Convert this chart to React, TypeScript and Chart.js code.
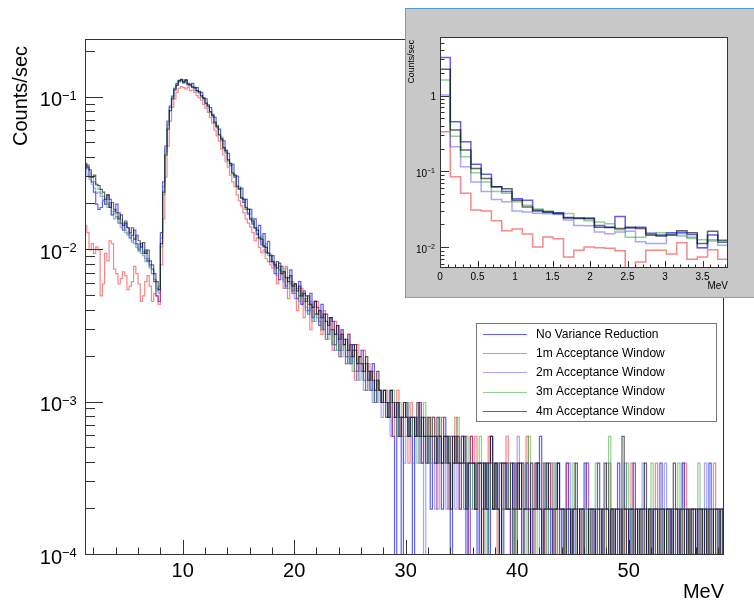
import React, { useEffect, useRef } from 'react';
import { Chart, registerables } from 'chart.js';

Chart.register(...registerables);

// ---------- series ----------
const seriesLabels = [
  'No Variance Reduction',
  '1m Acceptance Window',
  '2m Acceptance Window',
  '3m Acceptance Window',
  '4m Acceptance Window',
];
const seriesColors = [
  'rgba(30,30,235,0.7)',
  'rgba(235,40,40,0.55)',
  'rgba(80,80,255,0.5)',
  'rgba(40,160,40,0.5)',
  'rgba(0,0,0,0.6)',
];

// ---------- main histogram (MeV bins of 0.2 starting at 1.2; values in units of 1e-4 counts/sec) ----------
const mainBinStart = 1.2;
const mainBinWidth = 0.2;
const mainUnit = 1e-4;

const mainNoVR = [
  340, 360, 300, 280, 240, 200, 185, 190, 210, 200, 230, 215, 170, 180, 200, 175, 150, 135, 150, 140, 120, 125, 135, 110, 100, 110, 95, 100, 85, 80, 75, 62, 50, 46,
  130, 280, 480, 700, 880, 1020, 1150, 1240, 1280, 1300,
  1250, 1290, 1220, 1200, 1240, 1150, 1160, 1090, 1080, 990, 980, 870, 860, 760, 740, 640, 620, 530, 520, 440, 430, 360, 365, 300, 305, 250, 255, 205, 215, 172, 185, 148, 160, 126, 145, 108, 128, 96, 114, 84,
  92, 70, 84, 64, 78, 72, 58, 66, 74, 54, 60, 48, 62, 44, 54, 50, 40, 52, 36, 46, 42, 32, 44, 30, 38, 28, 36, 34, 24, 32, 22, 30, 26, 20, 28, 18, 24, 22, 16, 20, 22, 14, 18, 16, 12, 18, 10, 14, 12, 10,
  12, 8, 10, 12, 6, 0, 10, 8, 0, 8, 10, 6, 8, 0, 8, 6, 10, 4, 8, 6, 6, 2, 8, 6, 4, 6, 2, 8, 4, 6, 0, 4, 6, 4, 2, 6, 4, 0, 4, 6,
  4, 2, 0, 4, 4, 2, 4, 0, 6, 2, 4, 2, 4, 0, 2, 4, 2, 0, 4, 2, 2, 4, 0, 2, 4, 2, 0, 2, 4, 2, 6, 0, 2, 2, 4, 0, 2, 2, 4, 0,
  2, 2, 4, 0, 2, 0, 2, 2, 0, 2, 4, 2, 0, 2, 2, 0, 4, 2, 0, 2, 2, 0, 2, 2, 0, 4, 2, 0, 2, 2, 0, 2, 4, 0, 2, 2, 0, 2, 0, 2, 2, 0, 2, 2, 4, 0, 2, 2, 0, 2, 0, 2, 2, 0, 4, 2, 0, 2, 2, 0, 2, 0, 2, 2, 0, 2, 4, 0, 2, 2, 0, 2, 2,
];
const main1m = [
  145, 130, 100, 110, 95, 105, 100, 50, 60, 95, 85, 115, 110, 75, 70, 60, 65, 72, 68, 55, 58, 62, 78, 70, 60, 46, 50, 62, 68, 58, 46, 52, 50, 44,
  80, 160, 300, 480, 700, 860, 980, 1080, 1150, 1180,
  1160, 1140, 1170, 1110, 1120, 1080, 1030, 1000, 960, 900, 850, 800, 740, 680, 610, 560, 520, 460, 420, 380, 350, 310, 280, 260, 230, 210, 195, 175, 160, 150, 142, 130, 115, 120, 104, 96, 100, 88, 84, 80,
  76, 82, 60, 74, 70, 56, 78, 48, 62, 52, 58, 40, 50, 56, 36, 48, 44, 30, 42, 38, 46, 34, 28, 40, 26, 36, 30, 22, 34, 26, 20, 30, 24, 18, 28, 20, 22, 14, 24, 18, 16, 22, 12, 18, 14, 16, 10, 14, 12, 10,
  10, 12, 8, 10, 6, 10, 12, 8, 6, 10, 8, 4, 10, 8, 6, 8, 10, 4, 6, 8, 6, 4, 8, 6, 2, 6, 8, 4, 6, 2, 6, 4, 8, 4, 2, 6, 4, 4, 0, 6,
  4, 6, 2, 4, 0, 2, 4, 6, 2, 4, 2, 0, 4, 2, 4, 6, 2, 0, 2, 4, 2, 4, 0, 2, 6, 2, 2, 0, 4, 2, 2, 4, 0, 2, 2, 4, 2, 0, 2, 2,
  2, 0, 4, 2, 0, 2, 2, 0, 2, 0, 2, 4, 0, 2, 2, 0, 2, 2, 0, 2, 0, 4, 2, 0, 2, 2, 0, 2, 0, 2, 2, 4, 0, 2, 2, 0, 2, 0, 2, 2, 0, 2, 4, 0, 2, 2, 0, 2, 0, 2, 2, 0, 2, 2, 0, 4, 2, 0, 2, 0, 2, 2, 0, 2, 2, 0, 2, 0, 4, 2, 0, 2, 2,
];
const main2m = [
  330, 310, 290, 270, 255, 235, 240, 225, 215, 200, 190, 205, 170, 160, 165, 150, 140, 150, 130, 125, 128, 112, 118, 104, 98, 104, 92, 84, 88, 76, 70, 64, 56, 52,
  120, 260, 460, 680, 860, 1000, 1120, 1200, 1260, 1280,
  1250, 1260, 1200, 1190, 1160, 1120, 1110, 1060, 1010, 970, 920, 870, 800, 750, 680, 630, 570, 520, 470, 430, 390, 355, 320, 300, 265, 250, 220, 205, 185, 175, 160, 150, 140, 128, 122, 112, 106, 98, 96, 86,
  82, 78, 68, 74, 72, 62, 56, 66, 60, 52, 48, 56, 50, 44, 46, 40, 38, 46, 34, 38, 36, 32, 30, 36, 26, 28, 30, 24, 22, 28, 20, 22, 26, 18, 20, 18, 22, 16, 14, 18, 16, 12, 14, 16, 12, 10, 14, 10, 12, 8,
  10, 8, 10, 6, 8, 10, 6, 8, 8, 4, 6, 8, 6, 4, 8, 6, 4, 6, 0, 6, 4, 6, 4, 2, 6, 4, 4, 6, 2, 4, 6, 4, 2, 4, 4, 6, 2, 4, 0, 4,
  2, 4, 4, 0, 2, 4, 2, 0, 4, 2, 2, 4, 0, 2, 4, 2, 2, 0, 4, 2, 6, 2, 0, 2, 4, 2, 0, 2, 2, 4, 0, 2, 4, 2, 0, 2, 2, 4, 2, 0,
  2, 2, 0, 4, 0, 2, 2, 0, 2, 2, 0, 4, 2, 0, 2, 0, 2, 2, 0, 2, 4, 0, 2, 2, 0, 2, 0, 2, 4, 2, 0, 2, 2, 0, 2, 0, 4, 2, 0, 2, 2, 0, 2, 2, 0, 2, 4, 0, 2, 0, 2, 2, 0, 2, 4, 0, 2, 2, 0, 2, 0, 2, 2, 0, 4, 2, 0, 2, 2, 0, 2, 0, 2,
];
const main3m = [
  355, 340, 320, 300, 280, 265, 250, 235, 225, 210, 200, 190, 180, 172, 165, 150, 158, 140, 135, 128, 125, 115, 110, 108, 102, 95, 98, 88, 84, 78, 70, 64, 54, 58,
  105, 230, 440, 660, 860, 1010, 1150, 1230, 1300, 1320,
  1240, 1300, 1240, 1210, 1180, 1170, 1100, 1100, 1010, 1000, 910, 900, 800, 780, 680, 660, 570, 550, 460, 450, 385, 370, 315, 310, 262, 262, 218, 216, 185, 186, 158, 162, 138, 140, 118, 124, 104, 110, 92, 94,
  84, 80, 70, 78, 72, 64, 76, 56, 60, 62, 52, 56, 46, 52, 48, 42, 38, 44, 40, 34, 38, 36, 30, 34, 28, 26, 30, 24, 28, 22, 24, 20, 24, 22, 18, 20, 16, 22, 18, 14, 16, 18, 12, 14, 16, 12, 10, 14, 12, 10,
  12, 10, 8, 10, 12, 8, 6, 10, 8, 6, 10, 8, 6, 8, 6, 4, 8, 6, 10, 6, 4, 8, 6, 4, 6, 8, 4, 6, 4, 6, 2, 4, 6, 8, 4, 4, 2, 6, 4, 2,
  4, 2, 4, 6, 2, 4, 0, 2, 4, 2, 4, 2, 0, 4, 2, 2, 4, 2, 0, 2, 4, 2, 2, 0, 4, 6, 2, 2, 0, 4, 2, 2, 4, 0, 2, 2, 4, 2, 0, 2,
  2, 0, 2, 2, 0, 4, 2, 0, 2, 2, 0, 2, 0, 2, 2, 4, 0, 2, 2, 0, 2, 6, 0, 2, 2, 0, 2, 0, 2, 4, 2, 0, 2, 2, 0, 2, 0, 2, 2, 0, 4, 2, 0, 2, 2, 0, 2, 0, 2, 2, 0, 2, 4, 0, 2, 2, 0, 2, 0, 2, 2, 4, 0, 2, 2, 0, 2, 0, 2, 2, 0, 2, 2,
];
const main4m = [
  370, 350, 335, 300, 310, 270, 265, 250, 240, 215, 230, 190, 205, 185, 175, 160, 170, 145, 155, 140, 130, 140, 118, 125, 115, 105, 112, 95, 100, 85, 80, 70, 62, 55,
  110, 240, 420, 620, 820, 980, 1120, 1200, 1290, 1310,
  1270, 1310, 1230, 1220, 1170, 1160, 1110, 1090, 1030, 990, 920, 890, 810, 770, 690, 650, 570, 540, 470, 450, 390, 370, 320, 310, 260, 255, 220, 215, 190, 185, 160, 155, 140, 135, 120, 118, 106, 104, 95, 92,
  84, 80, 76, 82, 70, 72, 66, 62, 68, 58, 60, 54, 58, 50, 52, 46, 50, 44, 42, 46, 38, 40, 36, 38, 34, 32, 36, 30, 28, 32, 26, 28, 24, 26, 22, 24, 20, 24, 18, 20, 18, 16, 20, 14, 16, 14, 12, 16, 12, 10,
  12, 10, 8, 12, 10, 8, 10, 6, 8, 10, 8, 6, 8, 8, 6, 10, 6, 8, 6, 4, 8, 6, 6, 4, 8, 6, 4, 6, 6, 4, 2, 6, 4, 6, 4, 4, 6, 2, 4, 4,
  4, 2, 4, 4, 0, 4, 2, 4, 6, 2, 4, 2, 0, 4, 4, 2, 2, 4, 2, 0, 4, 2, 4, 2, 2, 0, 4, 2, 2, 4, 2, 0, 2, 4, 2, 2, 0, 2, 4, 2,
  2, 0, 2, 2, 0, 2, 4, 0, 2, 2, 0, 0, 2, 2, 0, 2, 2, 0, 2, 4, 2, 0, 2, 0, 2, 2, 0, 6, 2, 0, 2, 2, 0, 2, 0, 2, 2, 4, 0, 2, 0, 2, 2, 0, 2, 2, 0, 2, 2, 0, 4, 2, 0, 2, 2, 0, 2, 0, 2, 2, 0, 2, 2, 0, 2, 0, 2, 2, 0, 2, 2, 0, 2,
];

// ---------- inset histogram (MeV, 28 bins from 0; counts/sec) ----------
const insetBinStart = 0;
const insetBinWidth = 0.1372;
const insetNoVR = [3.28, 0.467, 0.254, 0.128, 0.095, 0.065, 0.056, 0.045, 0.043, 0.032, 0.03, 0.0295, 0.0255, 0.025, 0.0245, 0.02, 0.019, 0.0262, 0.0185, 0.019, 0.0158, 0.015, 0.016, 0.0162, 0.0152, 0.0102, 0.015, 0.012];
const inset1m = [0.345, 0.088, 0.053, 0.032, 0.031, 0.023, 0.017, 0.018, 0.0154, 0.0104, 0.0141, 0.0134, 0.0077, 0.0094, 0.0104, 0.0102, 0.01, 0.0093, 0.004, 0.0066, 0.0094, 0.0094, 0.0084, 0.0118, 0.0072, 0.0077, 0.0096, 0.0072];
const inset2m = [1.05, 0.218, 0.119, 0.075, 0.056, 0.044, 0.041, 0.031, 0.03, 0.029, 0.0285, 0.028, 0.0236, 0.02, 0.0198, 0.0164, 0.0156, 0.0164, 0.0168, 0.0122, 0.0116, 0.0116, 0.015, 0.0145, 0.014, 0.0102, 0.013, 0.011];
const inset3m = [1.66, 0.3, 0.161, 0.099, 0.075, 0.056, 0.053, 0.041, 0.037, 0.033, 0.031, 0.029, 0.0287, 0.025, 0.023, 0.0223, 0.021, 0.0175, 0.014, 0.014, 0.015, 0.016, 0.0156, 0.0155, 0.0135, 0.013, 0.0125, 0.012];
const inset4m = [2.3, 0.363, 0.197, 0.113, 0.083, 0.065, 0.061, 0.043, 0.035, 0.031, 0.03, 0.0287, 0.025, 0.0247, 0.025, 0.019, 0.0188, 0.0183, 0.019, 0.0183, 0.015, 0.0145, 0.015, 0.017, 0.016, 0.0116, 0.0168, 0.0128];

// ---------- axes ----------
const mainXRange = [1.24, 58.55];
const mainYRange = [1e-4, 0.242];
const mainXTicks = [10, 20, 30, 40, 50];
const mainYExponents = [-4, -3, -2, -1];
const insetXRange = [0, 3.84];
const insetYRange = [0.0055, 6.1];
const insetXTicks = [0, 0.5, 1, 1.5, 2, 2.5, 3, 3.5];
const insetXTickLabels = ['0', '0.5', '1', '1.5', '2', '2.5', '3', '3.5'];
const insetYTicks = [1, 0.1, 0.01];
const insetYTickExp = [0, -1, -2];

const FONT = '"Liberation Sans", Arial, Helvetica, sans-serif';

function histPoints(values: number[], start: number, width: number, unit: number, floor: number) {
  const pts = values.map((v, i) => ({ x: start + i * width, y: v > 0 ? v * unit : floor }));
  pts.push({ x: start + values.length * width, y: pts[pts.length - 1].y });
  return pts;
}

function makeDatasets(list: number[][], start: number, width: number, unit: number, floor: number, lw: number) {
  return list.map((vals, i) => ({
    label: seriesLabels[i],
    data: histPoints(vals, start, width, unit, floor),
    borderColor: seriesColors[i],
    backgroundColor: seriesColors[i],
    borderWidth: lw,
    pointRadius: 0,
    stepped: 'before' as const,
    tension: 0,
    fill: false,
    order: 5 - i,
  }));
}

function line(ctx: CanvasRenderingContext2D, x1: number, y1: number, x2: number, y2: number) {
  ctx.beginPath();
  ctx.moveTo(x1, y1);
  ctx.lineTo(x2, y2);
  ctx.stroke();
}

function drawPow10(ctx: CanvasRenderingContext2D, xJoin: number, y: number, exp: number, base: number, small: number, dy: number) {
  ctx.fillStyle = '#000';
  ctx.font = `${base}px ${FONT}`;
  ctx.textAlign = 'right';
  ctx.textBaseline = 'middle';
  ctx.fillText('10', xJoin, y);
  ctx.font = `${small}px ${FONT}`;
  ctx.textAlign = 'left';
  ctx.textBaseline = 'alphabetic';
  ctx.fillText('\u2212' + Math.abs(exp), xJoin, y + dy);
}

const mainDecor = {
  id: 'mainDecor',
  afterDraw(chart: any) {
    const { ctx, chartArea: a, scales } = chart;
    const xs = scales.x;
    const ys = scales.y;
    ctx.save();
    ctx.strokeStyle = '#333';
    ctx.lineWidth = 1;
    ctx.strokeRect(a.left + 0.5, a.top + 0.5, a.right - a.left - 1, a.bottom - a.top - 1);
    for (let v = 2; v <= 58; v += 2) {
      const px = Math.round(xs.getPixelForValue(v)) + 0.5;
      if (px <= a.left || px >= a.right) continue;
      const len = v % 10 === 0 ? 15 : 7.5;
      line(ctx, px, a.bottom, px, a.bottom - len);
    }
    for (let e = -4; e <= -1; e++) {
      for (let m = 1; m <= 9; m++) {
        const v = m * Math.pow(10, e);
        if (v > ys.max) continue;
        const py = Math.round(ys.getPixelForValue(v)) - 0.5;
        const len = m === 1 ? 18 : 10;
        line(ctx, a.left, py, a.left + len, py);
      }
    }
    ctx.fillStyle = '#000';
    ctx.font = `20px ${FONT}`;
    ctx.textAlign = 'center';
    ctx.textBaseline = 'middle';
    mainXTicks.forEach((v) => ctx.fillText(String(v), xs.getPixelForValue(v), 571));
    mainYExponents.forEach((e) => {
      const py = ys.getPixelForValue(Math.pow(10, e));
      drawPow10(ctx, 62, py + 3, e, 20, 13, -1);
    });
    ctx.fillStyle = '#000';
    ctx.font = `20px ${FONT}`;
    ctx.textAlign = 'right';
    ctx.textBaseline = 'middle';
    ctx.fillText('MeV', a.right, 592);
    ctx.save();
    ctx.translate(21, 46);
    ctx.rotate(-Math.PI / 2);
    ctx.textAlign = 'right';
    ctx.textBaseline = 'middle';
    ctx.fillText('Counts/sec', 0, 0);
    ctx.restore();
    // legend
    const lx = 476, ly = 323, lw = 240, lh = 98;
    ctx.fillStyle = '#fff';
    ctx.fillRect(lx, ly, lw, lh);
    ctx.strokeStyle = '#777';
    ctx.strokeRect(lx + 0.5, ly + 0.5, lw, lh);
    ctx.font = `12px ${FONT}`;
    ctx.textAlign = 'left';
    ctx.textBaseline = 'middle';
    seriesLabels.forEach((lab, i) => {
      const yy = 334 + i * 19.2;
      ctx.strokeStyle = seriesColors[i];
      ctx.lineWidth = 1;
      line(ctx, 483, Math.round(yy) + 0.5, 527, Math.round(yy) + 0.5);
      ctx.fillStyle = '#000';
      ctx.fillText(lab, 536, yy + 0.5);
    });
    ctx.restore();
  },
};

const insetDecor = {
  id: 'insetDecor',
  beforeDatasetsDraw(chart: any) {
    const { ctx, chartArea: a } = chart;
    ctx.save();
    ctx.fillStyle = '#fff';
    ctx.fillRect(a.left, a.top, a.right - a.left, a.bottom - a.top);
    ctx.restore();
  },
  afterDraw(chart: any) {
    const { ctx, chartArea: a, scales } = chart;
    const xs = scales.x;
    const ys = scales.y;
    ctx.save();
    ctx.strokeStyle = '#333';
    ctx.lineWidth = 1;
    ctx.strokeRect(a.left + 0.5, a.top + 0.5, a.right - a.left - 1, a.bottom - a.top - 1);
    for (let k = 1; k <= 38; k++) {
      const v = k / 10;
      const px = Math.round(xs.getPixelForValue(v)) + 0.5;
      if (px >= a.right) continue;
      const len = k % 5 === 0 ? 7 : 3.5;
      line(ctx, px, a.bottom, px, a.bottom - len);
    }
    for (let e = -3; e <= 0; e++) {
      for (let m = 1; m <= 9; m++) {
        const v = m * Math.pow(10, e);
        if (v < ys.min || v > ys.max) continue;
        const py = Math.round(ys.getPixelForValue(v)) - 0.5;
        const len = m === 1 ? 9 : 4.5;
        line(ctx, a.left, py, a.left + len, py);
      }
    }
    ctx.fillStyle = '#000';
    ctx.font = `10px ${FONT}`;
    ctx.textAlign = 'center';
    ctx.textBaseline = 'middle';
    insetXTicks.forEach((v, i) => ctx.fillText(insetXTickLabels[i], xs.getPixelForValue(v), a.bottom + 9));
    insetYTicks.forEach((v, i) => {
      const py = ys.getPixelForValue(v);
      if (insetYTickExp[i] === 0) {
        ctx.fillStyle = '#000';
        ctx.font = `10px ${FONT}`;
        ctx.textAlign = 'right';
        ctx.textBaseline = 'middle';
        ctx.fillText('1', a.left - 4, py + 1);
      } else {
        drawPow10(ctx, a.left - 13, py + 1.5, insetYTickExp[i], 10, 7, -1);
      }
    });
    ctx.fillStyle = '#000';
    ctx.font = `10px ${FONT}`;
    ctx.textAlign = 'right';
    ctx.textBaseline = 'middle';
    ctx.fillText('MeV', a.right, a.bottom + 18);
    ctx.save();
    ctx.translate(5.5, 31);
    ctx.rotate(-Math.PI / 2);
    ctx.font = `8.7px ${FONT}`;
    ctx.textAlign = 'right';
    ctx.textBaseline = 'middle';
    ctx.fillText('Counts/sec', 0, 0);
    ctx.restore();
    ctx.restore();
  },
};

export default function App() {
  const mainRef = useRef<HTMLCanvasElement>(null);
  const insetRef = useRef<HTMLCanvasElement>(null);

  useEffect(() => {
    const mainChart = new Chart(mainRef.current as HTMLCanvasElement, {
      type: 'line',
      data: {
        datasets: makeDatasets([mainNoVR, main1m, main2m, main3m, main4m], mainBinStart, mainBinWidth, mainUnit, 5e-5, 1.2) as any,
      },
      options: {
        animation: false,
        responsive: false,
        events: [],
        layout: { padding: { left: 85, top: 39, right: 30, bottom: 49 } },
        plugins: { legend: { display: false }, tooltip: { enabled: false } },
        scales: {
          x: { type: 'linear', min: mainXRange[0], max: mainXRange[1], display: false },
          y: { type: 'logarithmic', min: mainYRange[0], max: mainYRange[1], display: false },
        },
      },
      plugins: [mainDecor],
    });

    const insetChart = new Chart(insetRef.current as HTMLCanvasElement, {
      type: 'line',
      data: {
        datasets: makeDatasets([insetNoVR, inset1m, inset2m, inset3m, inset4m], insetBinStart, insetBinWidth, 1, 0.001, 1.5) as any,
      },
      options: {
        animation: false,
        responsive: false,
        events: [],
        layout: { padding: { left: 34, top: 28, right: 26, bottom: 29 } },
        plugins: { legend: { display: false }, tooltip: { enabled: false } },
        scales: {
          x: { type: 'linear', min: insetXRange[0], max: insetXRange[1], display: false },
          y: { type: 'logarithmic', min: insetYRange[0], max: insetYRange[1], display: false },
        },
      },
      plugins: [insetDecor],
    });

    return () => {
      mainChart.destroy();
      insetChart.destroy();
    };
  }, []);

  return (
    <div style={{ position: 'fixed', left: 0, top: 0, width: 754, height: 604, background: '#fff', overflow: 'hidden' }}>
      <canvas ref={mainRef} width={754} height={604} style={{ position: 'absolute', left: 0, top: 0, width: 754, height: 604 }} />
      <div
        style={{
          position: 'absolute',
          left: 405,
          top: 8,
          width: 349,
          height: 290,
          boxSizing: 'border-box',
          background: '#c8c8c8',
          borderTop: '1px solid #4f9bd6',
          borderLeft: '1px solid #6a9fb8',
          borderBottom: '1px solid #7aa9a8',
        }}
      >
        <canvas ref={insetRef} width={348} height={288} style={{ display: 'block', width: 348, height: 288 }} />
      </div>
    </div>
  );
}
